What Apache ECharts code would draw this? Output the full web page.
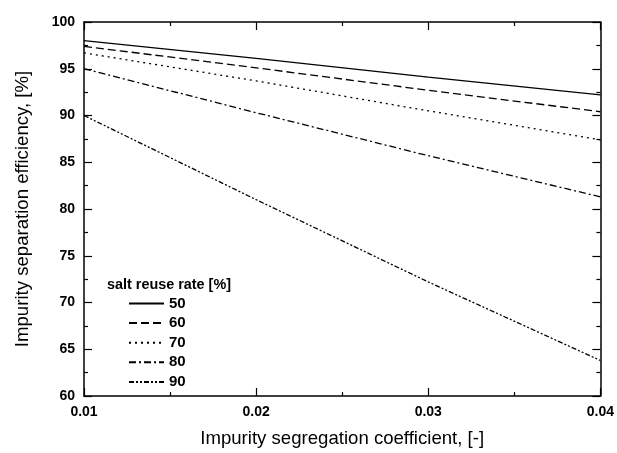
<!DOCTYPE html>
<html>
<head>
<meta charset="utf-8">
<script src="https://cdn.jsdelivr.net/npm/echarts@6/dist/echarts.min.js"></script>
<style>html,body{margin:0;padding:0;background:#fff}#c{width:617px;height:453px}</style>
</head>
<body>
<div id="c"></div>
<script>
const xValues = [0.01, 0.02, 0.03, 0.04];
const seriesNames = ['50', '60', '70', '80', '90'];
const rate50 = [98.0, 96.1, 94.1, 92.2];
const rate60 = [97.4, 95.1, 92.7, 90.4];
const rate70 = [96.7, 93.7, 90.5, 87.4];
const rate80 = [95.0, 90.3, 85.7, 81.3];
const rate90 = [90.0, 81.0, 72.2, 63.8];
const seriesValues = [rate50, rate60, rate70, rate80, rate90];
const dashTypes = ['solid', [8, 4], [2, 4], [7, 3, 2, 3], [5, 2, 2, 2, 2, 2]];

const font = '"Liberation Sans", Arial, sans-serif';
const chart = echarts.init(document.getElementById('c'));

const axisLineStyle = { color: '#000', width: 1.5 };
const baseX = {
  type: 'value', min: 0.01, max: 0.04, interval: 0.01,
  axisLine: { show: true, onZero: false, lineStyle: axisLineStyle },
  axisTick: { show: true, inside: true, length: 8, lineStyle: { color: '#000', width: 1.2 } },
  minorTick: { show: true, splitNumber: 2, length: 4, lineStyle: { color: '#000', width: 1.2 } },
  splitLine: { show: false }
};
const baseY = {
  type: 'value', min: 60, max: 100, interval: 5,
  axisLine: { show: true, onZero: false, lineStyle: axisLineStyle },
  axisTick: { show: true, inside: true, length: 8, lineStyle: { color: '#000', width: 1.2 } },
  minorTick: { show: true, splitNumber: 2, length: 4, lineStyle: { color: '#000', width: 1.2 } },
  splitLine: { show: false }
};

chart.setOption({
  animation: false,
  backgroundColor: '#fff',
  grid: { left: 84, right: 15, top: 22, bottom: 54, containLabel: false },
  xAxis: [
    Object.assign({}, baseX, {
      position: 'bottom',
      name: 'Impurity segregation coefficient, [-]',
      nameLocation: 'middle', nameGap: 33,
      nameTextStyle: { fontFamily: font, fontSize: 18.6, color: '#000' },
      axisLabel: { show: true, margin: 9, fontFamily: font, fontSize: 14, fontWeight: 'bold', color: '#000',
        formatter: v => v.toFixed(2) }
    }),
    Object.assign({}, baseX, { position: 'top', axisLabel: { show: false } })
  ],
  yAxis: [
    Object.assign({}, baseY, {
      position: 'left',
      name: 'Impurity separation efficiency, [%]',
      nameLocation: 'middle', nameGap: 52,
      nameTextStyle: { fontFamily: font, fontSize: 18.6, color: '#000' },
      axisLabel: { show: true, margin: 9, fontFamily: font, fontSize: 14, fontWeight: 'bold', color: '#000' }
    }),
    Object.assign({}, baseY, { position: 'right', axisLabel: { show: false } })
  ],
  legend: {
    orient: 'vertical', left: 123, top: 291,
    itemWidth: 35, itemHeight: 12, itemGap: 4.6,
    itemStyle: { opacity: 0 },
    textStyle: { fontFamily: font, fontSize: 15, fontWeight: 'bold', color: '#000', padding: [0, 0, 0, 0] },
    data: seriesNames
  },
  graphic: [{
    type: 'text', left: 107, top: 278,
    style: { text: 'salt reuse rate [%]', font: 'bold 14.4px ' + font, fill: '#000' }
  }],
  series: seriesNames.map((name, i) => ({
    name: name,
    type: 'line',
    xAxisIndex: 0, yAxisIndex: 0,
    symbol: 'none',
    data: xValues.map((x, j) => [x, seriesValues[i][j]]),
    lineStyle: { color: '#000', width: 1.3, type: dashTypes[i] },
    itemStyle: { color: '#000' }
  }))
});
</script>
</body>
</html>
